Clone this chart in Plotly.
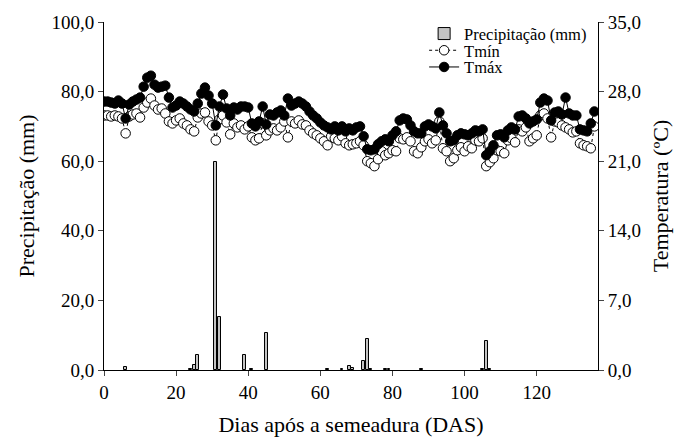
import plotly.graph_objects as go

days = list(range(137))

tmax = [27.0, 27.0, 26.9, 26.8, 27.1, 26.8, 25.3, 26.7, 27.0, 27.2,
        27.4, 28.5, 29.4, 29.6, 28.7, 28.4, 28.5, 28.6, 27.4, 26.4,
        26.6, 27.0, 26.8, 26.5, 26.2, 26.0, 26.8, 27.8, 28.4, 27.6,
        26.8, 24.6, 26.5, 27.7, 26.3, 25.6, 26.4, 26.2, 26.5, 26.5,
        26.4, 24.8, 24.5, 25.0, 26.5, 24.7, 25.7, 25.6, 25.9, 26.1,
        25.6, 27.3, 26.6, 26.8, 27.0, 26.8, 26.5, 26.0, 25.6, 25.3,
        24.9, 24.6, 24.4, 24.2, 24.5, 24.1, 24.5, 24.0, 24.3, 24.1,
        24.4, 24.5, 23.5, 22.2, 22.1, 22.2, 22.7, 23.0, 23.2, 23.0,
        23.6, 24.0, 25.1, 25.3, 25.2, 24.6, 24.0, 23.8, 23.8, 24.5,
        24.7, 24.5, 24.3, 25.9, 24.6, 23.8, 23.0, 23.1, 23.6, 23.8,
        23.7, 23.6, 23.8, 24.1, 24.0, 24.2, 21.6, 22.0, 22.6, 23.6,
        23.7, 23.4, 24.1, 24.4, 24.2, 25.5, 25.6, 25.3, 24.8, 25.0,
        25.2, 26.9, 27.3, 27.1, 25.1, 25.9, 26.0, 25.7, 27.4, 25.8,
        25.6, 25.6, 24.2, 24.1, 24.0, 24.8, 26.0]

tmin = [25.6, 25.6, 25.5, 25.6, 25.5, 25.3, 23.8, 25.5, 25.7, 25.8,
        25.4, 26.4, 26.9, 27.3, 26.6, 26.2, 26.3, 25.8, 25.0, 24.8,
        25.1, 25.3, 24.8, 24.6, 24.2, 24.0, 25.4, 25.8, 25.9, 25.0,
        24.6, 23.1, 25.2, 25.6, 24.9, 23.7, 24.8, 24.4, 24.6, 24.2,
        24.5, 23.4, 23.1, 23.3, 24.8, 23.6, 24.1, 24.3, 24.1, 24.4,
        25.0, 23.4, 25.0, 24.8, 25.1, 24.7, 24.6, 24.1, 23.8, 23.6,
        23.3, 23.0, 22.6, 23.5, 23.3, 23.1, 23.5, 22.8, 22.6, 22.7,
        22.8, 23.0, 22.6, 21.0, 20.8, 20.5, 21.2, 22.0, 21.6, 21.8,
        22.1, 22.0, 23.3, 23.2, 23.4, 23.0, 22.0, 21.8, 22.4, 23.0,
        23.2, 22.8, 23.1, 25.0, 22.3, 22.0, 21.0, 21.3, 22.1, 22.4,
        22.0, 22.5, 22.3, 23.1, 23.0, 23.3, 20.5, 20.9, 21.3, 22.1,
        22.0, 21.8, 23.1, 23.3, 22.9, 24.2, 24.0, 24.4, 23.0, 23.3,
        23.6, 25.6, 25.8, 25.3, 23.4, 25.0, 24.9, 24.6, 24.4, 24.2,
        23.9, 24.0, 22.8, 22.6, 22.5, 22.3, 24.5]

rain_days = [6, 24, 25, 26, 31, 32, 39, 41, 45, 62, 66, 68, 69, 72, 73, 74,
             78, 79, 88, 105, 106, 107]
rain_mm = [0.8, 0.3, 1.4, 4.2, 59.8, 15.3, 4.3, 0.3, 10.6, 0.3, 0.3, 1.2, 0.5,
           2.5, 9.0, 0.3, 0.4, 0.4, 0.3, 0.3, 8.3, 0.3]

left_ticks = [0, 20, 40, 60, 80, 100]
right_ticks = [0, 7, 14, 21, 28, 35]
x_ticks = [0, 20, 40, 60, 80, 100, 120]

FONT = "'Liberation Serif', 'Times New Roman', Times, serif"

fig = go.Figure()
fig.add_trace(go.Bar(
    x=rain_days, y=rain_mm, name="Precipitação (mm)", width=0.75,
    marker=dict(color="#c4c4c4", line=dict(color="black", width=1)),
    yaxis="y", legend="legend",
))
fig.add_trace(go.Scatter(
    x=days, y=tmin, name="Tmín", mode="lines+markers", yaxis="y2",
    line=dict(color="black", width=1, dash="dot"),
    marker=dict(symbol="circle", size=9.5, color="white",
                line=dict(color="black", width=1)),
    legend="legend2",
))
fig.add_trace(go.Scatter(
    x=days, y=tmax, name="Tmáx", mode="lines+markers", yaxis="y2",
    line=dict(color="black", width=1),
    marker=dict(symbol="circle", size=9.5, color="black",
                line=dict(color="black", width=1)),
    legend="legend3",
))

leg_common = dict(x=0.648, xanchor="left", yanchor="middle",
                  bgcolor="rgba(0,0,0,0)", font=dict(size=16.5, family=FONT),
                  itemwidth=30)

fig.update_layout(
    width=683, height=446,
    margin=dict(l=104, r=85, t=16, b=76),
    paper_bgcolor="white", plot_bgcolor="white",
    font=dict(family=FONT, size=19, color="black"),
    separators=",.",
    showlegend=True,
    bargap=0,
    legend=dict(y=0.966, **leg_common),
    legend2=dict(y=0.918, **leg_common),
    legend3=dict(y=0.870, **leg_common),
    xaxis=dict(range=[0, 137], tickvals=x_ticks, ticks="outside", ticklen=5,
               showline=True, linecolor="black", linewidth=1, showgrid=False,
               zeroline=False, tickfont=dict(size=19, family=FONT),
               title=dict(text="Dias após a semeadura (DAS)",
                          font=dict(size=22, family=FONT), standoff=14)),
    yaxis=dict(range=[0, 100], tickvals=left_ticks, tickformat=".1f",
               ticks="outside", ticklen=5, showline=True, linecolor="black",
               linewidth=1, showgrid=False, zeroline=False,
               tickfont=dict(size=19, family=FONT),
               title=dict(text="Precipitação (mm)",
                          font=dict(size=22, family=FONT), standoff=10)),
    yaxis2=dict(range=[0, 35], tickvals=right_ticks, tickformat=".1f",
                overlaying="y", side="right", ticks="outside", ticklen=5,
                showline=True, linecolor="black", linewidth=1, showgrid=False,
                zeroline=False, tickfont=dict(size=19, family=FONT),
                title=dict(text="Temperatura (ºC)",
                           font=dict(size=22, family=FONT), standoff=12)),
)

fig.write_html("out.html")
